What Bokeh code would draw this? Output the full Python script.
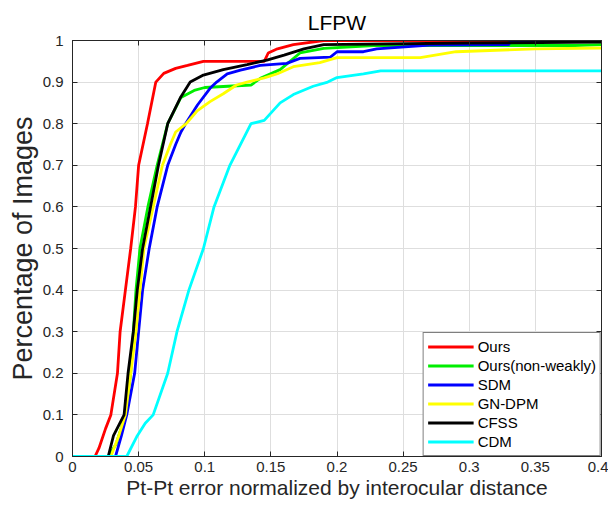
from bokeh.plotting import figure
from bokeh.models import Range1d, FixedTicker, LinearAxis
from bokeh.embed import file_html
from bokeh.resources import INLINE

# ---- data ----
x_ticks = [0, 0.05, 0.1, 0.15, 0.2, 0.25, 0.3, 0.35, 0.4]
x_tick_labels = ["0", "0.05", "0.1", "0.15", "0.2", "0.25", "0.3", "0.35", "0.4"]
y_ticks = [0, 0.1, 0.2, 0.3, 0.4, 0.5, 0.6, 0.7, 0.8, 0.9, 1]
y_tick_labels = ["0", "0.1", "0.2", "0.3", "0.4", "0.5", "0.6", "0.7", "0.8", "0.9", "1"]

ours_x = [0, 0.017, 0.020, 0.025, 0.029, 0.034, 0.036, 0.040, 0.044, 0.0476, 0.050, 0.0567,
          0.063, 0.069, 0.078, 0.087, 0.099, 0.145, 0.148, 0.155, 0.167, 0.19, 0.4]
ours_y = [0, 0, 0.02, 0.067, 0.1, 0.2, 0.3, 0.4, 0.5, 0.6, 0.7, 0.8,
          0.9, 0.921, 0.933, 0.94, 0.95, 0.95, 0.97, 0.98, 0.99, 1.0, 1.0]

nonweak_x = [0, 0.027, 0.033, 0.040, 0.044, 0.046, 0.048, 0.051, 0.057, 0.064, 0.072, 0.082,
             0.092, 0.1, 0.135, 0.142, 0.157, 0.172, 0.19, 0.228, 0.38, 0.4]
nonweak_y = [0, 0, 0.03, 0.1, 0.2, 0.3, 0.4, 0.5, 0.6, 0.7, 0.8, 0.863,
             0.88, 0.887, 0.893, 0.909, 0.93, 0.97, 0.981, 0.988, 0.988, 0.99]

sdm_x = [0, 0.0325, 0.037, 0.041, 0.047, 0.050, 0.053, 0.058, 0.064, 0.072, 0.078, 0.082,
         0.0855, 0.0945, 0.104, 0.109, 0.117, 0.127, 0.142, 0.162, 0.172, 0.195, 0.2,
         0.22, 0.23, 0.27, 0.33, 0.331, 0.4]
sdm_y = [0, 0, 0.05, 0.1, 0.2, 0.3, 0.4, 0.5, 0.6, 0.7, 0.75, 0.78,
         0.8, 0.845, 0.885, 0.9, 0.92, 0.929, 0.94, 0.945, 0.957, 0.96, 0.973,
         0.973, 0.98, 0.989, 0.99, 1.0, 1.0]

gndpm_x = [0, 0.029, 0.035, 0.040, 0.048, 0.054, 0.061, 0.068, 0.074, 0.078, 0.086, 0.094,
           0.104, 0.114, 0.124, 0.132, 0.145, 0.155, 0.167, 0.187, 0.2, 0.263, 0.29, 0.35, 0.4]
gndpm_y = [0, 0, 0.05, 0.1, 0.3, 0.5, 0.6, 0.7, 0.75, 0.78, 0.8, 0.83,
           0.853, 0.872, 0.893, 0.9, 0.91, 0.92, 0.937, 0.947, 0.959, 0.959, 0.973, 0.98, 0.982]

cfss_x = [0, 0.027, 0.031, 0.039, 0.042, 0.046, 0.049, 0.053, 0.059, 0.065, 0.072, 0.082,
          0.089, 0.099, 0.114, 0.132, 0.147, 0.16, 0.175, 0.19, 0.30, 0.4]
cfss_y = [0, 0, 0.05, 0.1, 0.2, 0.3, 0.4, 0.5, 0.6, 0.7, 0.8, 0.865,
          0.9, 0.917, 0.93, 0.942, 0.953, 0.965, 0.98, 0.99, 0.994, 0.996]

cdm_x = [0, 0.041, 0.049, 0.055, 0.061, 0.072, 0.079, 0.088, 0.099, 0.107, 0.119, 0.135,
         0.145, 0.157, 0.167, 0.182, 0.193, 0.2, 0.22, 0.233, 0.4]
cdm_y = [0, 0, 0.05, 0.08, 0.1, 0.2, 0.3, 0.4, 0.5, 0.6, 0.7, 0.8,
         0.808, 0.85, 0.87, 0.89, 0.9, 0.911, 0.92, 0.927, 0.927]

series = [
    ("Ours", ours_x, ours_y, "#ff0000"),
    ("Ours(non-weakly)", nonweak_x, nonweak_y, "#00ee00"),
    ("SDM", sdm_x, sdm_y, "#0000ff"),
    ("GN-DPM", gndpm_x, gndpm_y, "#ffff00"),
    ("CFSS", cfss_x, cfss_y, "#000000"),
    ("CDM", cdm_x, cdm_y, "#00ffff"),
]

FONT = "Liberation Sans"
DARK = "#262626"

p = figure(width=608, height=503,
           x_range=Range1d(0, 0.4), y_range=Range1d(0, 1),
           output_backend="svg", toolbar_location=None,
           min_border_left=72, min_border_right=7, min_border_top=40, min_border_bottom=47,
           background_fill_color="white", border_fill_color="white")

p.title.text = "LFPW"
p.title.align = "center"
p.title.text_font = FONT
p.title.text_font_size = "21px"
p.title.text_font_style = "normal"
p.title.text_color = "#000000"
p.title.standoff = 14

p.outline_line_color = DARK
p.outline_line_width = 1

for ax in (p.xaxis[0], p.yaxis[0]):
    ax.axis_line_color = DARK
    ax.major_tick_line_color = DARK
    ax.major_tick_in = 5
    ax.major_tick_out = 0
    ax.minor_tick_line_color = None
    ax.major_label_text_font = FONT
    ax.major_label_text_font_size = "15px"
    ax.major_label_text_color = DARK
    ax.axis_label_text_font = FONT
    ax.axis_label_text_font_style = "normal"
    ax.axis_label_text_color = DARK

p.xaxis.ticker = FixedTicker(ticks=x_ticks)
p.xaxis.major_label_overrides = {t: s for t, s in zip(x_ticks, x_tick_labels)}
p.xaxis.axis_label = "Pt-Pt error normalized by interocular distance"
p.xaxis.axis_label_text_font_size = "21px"
p.xaxis.major_label_standoff = 5
p.xaxis.axis_label_standoff = 1

p.yaxis.ticker = FixedTicker(ticks=y_ticks)
p.yaxis.major_label_overrides = {t: s for t, s in zip(y_ticks, y_tick_labels)}
p.yaxis.axis_label = "Percentage of Images"
p.yaxis.axis_label_text_font_size = "27px"
p.yaxis.major_label_standoff = 9
p.yaxis.axis_label_standoff = 2

# box ticks on the right and top (labels not painted)
for loc, ticks in (("right", y_ticks), ("above", x_ticks)):
    ax = LinearAxis(ticker=FixedTicker(ticks=ticks), axis_line_color=DARK,
                    major_tick_line_color=DARK, major_tick_in=5, major_tick_out=0,
                    minor_tick_line_color=None, major_label_text_font_size="1px",
                    major_label_text_color=None, major_label_standoff=0)
    p.add_layout(ax, loc)

p.xgrid.ticker = FixedTicker(ticks=x_ticks)
p.ygrid.ticker = FixedTicker(ticks=y_ticks)
p.grid.grid_line_color = "#dedede"
p.grid.grid_line_width = 1

for name, xs, ys, col in series:
    p.line(xs, ys, line_color=col, line_width=2.8, legend_label=name)

lg = p.legend[0]
lg.location = "bottom_right"
lg.margin = 0
lg.padding = 4
lg.spacing = 0
lg.glyph_width = 46
lg.glyph_height = 19
lg.label_height = 19
lg.label_standoff = 4
lg.label_text_font = FONT
lg.label_text_font_size = "15px"
lg.label_text_color = "#000000"
lg.border_line_color = "#000000"
lg.border_line_width = 1
lg.background_fill_color = "white"
lg.background_fill_alpha = 1

open("out.html", "w").write(file_html(p, INLINE))
